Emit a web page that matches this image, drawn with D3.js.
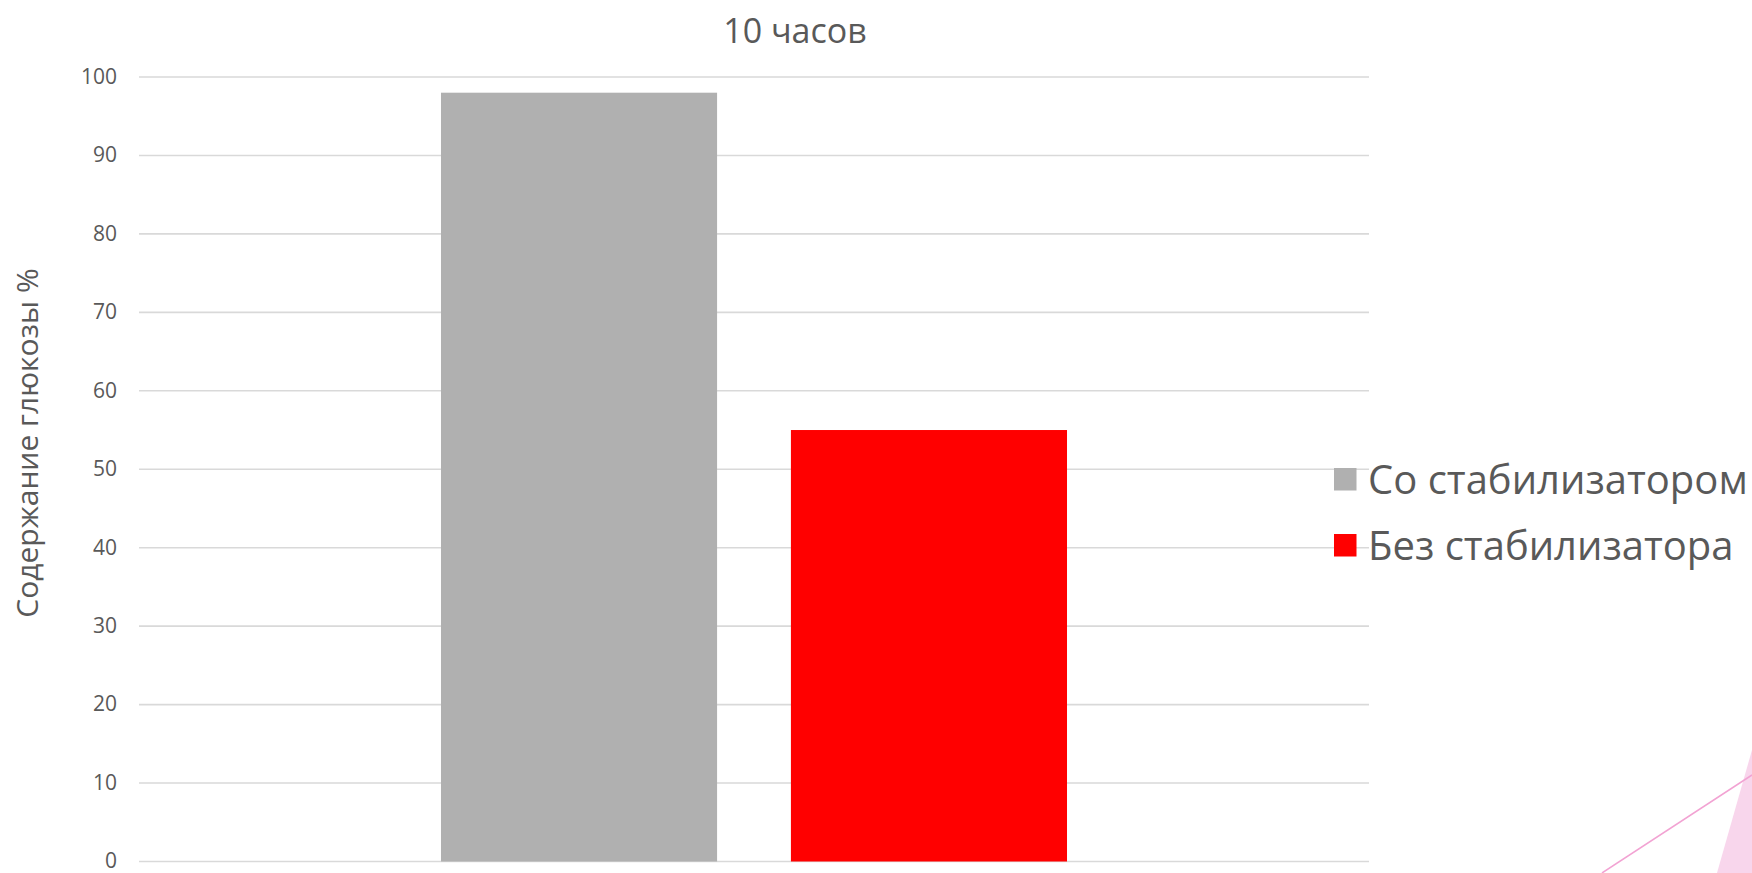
<!DOCTYPE html>
<html lang="ru">
<head>
<meta charset="utf-8">
<title>10 часов</title>
<script src="https://cdn.jsdelivr.net/npm/d3@7/dist/d3.min.js"></script>
<style>
  html, body { margin: 0; padding: 0; background: #ffffff; }
  svg { display: block; }
  text { font-family: "Open Sans", "Noto Sans", "DejaVu Sans", sans-serif; fill: #595959; }
</style>
</head>
<body>
<svg id="chart" width="1752" height="873"></svg>
<script>
// Glucose content after 10 hours, with and without stabilizer
const chartTitle = "10 часов";
const yAxisTitle = "Содержание глюкозы %";
const seriesNames = ["Со стабилизатором", "Без стабилизатора"];
const seriesValues = [98, 55];
const seriesColors = ["#b0b0b0", "#ff0000"];
const yTicks = [0, 10, 20, 30, 40, 50, 60, 70, 80, 90, 100];

const svg = d3.select("#chart");
const W = 1752, H = 873;

const plot = { left: 139, right: 1369, top: 77, bottom: 861.5 };

const y = d3.scaleLinear().domain([0, 100]).range([plot.bottom, plot.top]);
const x = d3.scaleBand()
  .domain(seriesNames)
  .range([plot.left, plot.right])
  .paddingInner(0.211)
  .paddingOuter(0.863);

// Horizontal gridlines
svg.append("g")
  .selectAll("line")
  .data(yTicks)
  .join("line")
  .attr("x1", plot.left)
  .attr("x2", plot.right)
  .attr("y1", d => y(d))
  .attr("y2", d => y(d))
  .attr("stroke", "#d9d9d9")
  .attr("stroke-width", 1.6);

// Y axis tick labels
const yAxis = d3.axisLeft(y).tickValues(yTicks).tickSize(0).tickPadding(22);
const gy = svg.append("g").attr("transform", `translate(${plot.left},0)`).call(yAxis);
gy.select(".domain").remove();
gy.selectAll("text")
  .attr("fill", "#595959")
  .attr("dy", "0.3em")
  .style("font-size", "21px")
  .style("font-family", "\"Open Sans\", \"Noto Sans\", sans-serif");

// Bars
svg.append("g")
  .selectAll("rect")
  .data(seriesNames.map((n, i) => ({ name: n, value: seriesValues[i], color: seriesColors[i] })))
  .join("rect")
  .attr("x", d => x(d.name))
  .attr("width", x.bandwidth())
  .attr("y", d => y(d.value))
  .attr("height", d => y(0) - y(d.value))
  .attr("fill", d => d.color);

// Title
svg.append("text")
  .attr("x", 795)
  .attr("y", 42.5)
  .attr("text-anchor", "middle")
  .style("font-size", "34px")
  .text(chartTitle);

// Y axis title
svg.append("text")
  .attr("transform", "translate(38,443) rotate(-90)")
  .attr("text-anchor", "middle")
  .style("font-size", "30px")
  .text(yAxisTitle);

// Legend
const legend = svg.append("g").attr("transform", "translate(1334,468)");
const items = legend.selectAll("g")
  .data(seriesNames.map((n, i) => ({ name: n, color: seriesColors[i] })))
  .join("g")
  .attr("transform", (d, i) => `translate(0,${i * 66})`);
items.append("rect")
  .attr("width", 22.5)
  .attr("height", 22.5)
  .attr("fill", d => d.color);
items.append("text")
  .attr("x", 34)
  .attr("y", 25.5)
  .style("font-size", "40px")
  .text(d => d.name);

// Decorative corner accents
svg.append("polygon")
  .attr("points", `1717,${H} ${W},750 ${W},${H}`)
  .attr("fill", "#f8d6ec");
svg.append("line")
  .attr("x1", 1602).attr("y1", H)
  .attr("x2", W).attr("y2", 775)
  .attr("stroke", "#f2a3d3")
  .attr("stroke-width", 1.5);
</script>
</body>
</html>
